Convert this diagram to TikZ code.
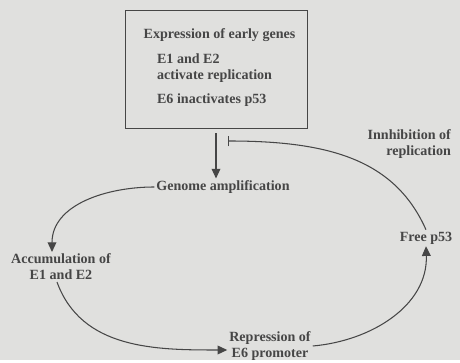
\documentclass[tikz,border=0pt]{standalone}
\usepackage{fontspec}
\setmainfont{Liberation Serif}
\usetikzlibrary{arrows.meta}
\definecolor{paper}{RGB}{224,224,222}
\definecolor{ink}{RGB}{70,70,70}

\begin{document}
\begin{tikzpicture}[
        label/.style={text=ink, font=\fontsize{8}{9}\selectfont\bfseries, inner sep=1pt},
        arr/.style={draw=ink, line width=0.6pt, -{Triangle[width=5pt,length=5.5pt]}},
        inh/.style={draw=ink, line width=0.6pt, {Bar[width=6pt]}-}
    ]
            \fill [paper] (0, 0) rectangle (9.2, 7.2);

            \node [draw=ink, line width=0.45pt, minimum width=3.64cm, minimum height=2.36cm] (genes) at (4.32, 5.82) {};
            \node [label] (expr) at (4.39, 6.5) {Expression of early genes};
            \node [label, anchor=west, align=left] (e12) at (3.1, 5.84) {E1 and E2\\activate replication};
            \node [label, anchor=west] (e6) at (3.1, 5.2) {E6 inactivates p53};

            \node [label] (genome) at (4.46, 3.46) {Genome amplification};
            \node [label, align=center] (accum) at (1.22, 1.86) {Accumulation of\\E1 and E2};
            \node [label, align=center] (repr) at (5.4, 0.28) {Repression of\\E6 promoter};
            \node [label] (free) at (8.52, 2.44) {Free p53};
            \node [label, anchor=east, align=right] (inhib) at (9.06, 4.32) {Innhibition of\\replication};

            \coordinate (bar) at (4.56, 4.38);

            \draw [arr] ([yshift=-0.1cm]genes.south) to (genes.south |- genome.north);
            \draw [arr] (genome.west) to [out=180, in=90] ([xshift=-0.18cm]accum.north);
            \draw [arr] ([xshift=-0.08cm]accum.south) to [out=-70, in=180] ([yshift=-0.08cm]repr.west);
            \draw [arr] (repr.east) to [out=5, in=-88] (free.south);
            \draw [inh] (bar) .. controls (6.6, 4.38) and (7.9, 4.0) .. (free.north);
        \end{tikzpicture}
\end{document}
